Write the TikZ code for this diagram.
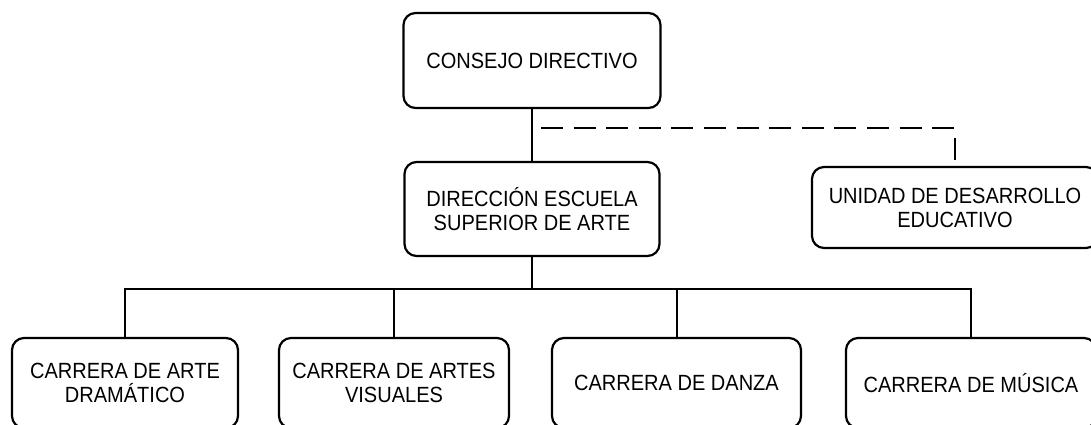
\documentclass[tikz,border=0pt]{standalone}
\usepackage{fontspec}
\setmainfont{Liberation Sans}[FakeStretch=0.91]
\begin{document}
\begin{tikzpicture}[x=1pt,y=-1pt,
  box/.style={draw, line width=2.2pt, rounded corners=12pt, align=center,
    font=\fontsize{22}{24}\selectfont, inner sep=0pt},
  conn/.style={line width=2pt},
  dsh/.style={line width=2pt, dash pattern=on 22pt off 10.6pt, dash phase=23.6pt}]
\useasboundingbox (0,0) rectangle (1091,425);
\clip (0,0) rectangle (1091,425);
\node[box, minimum width=257pt, minimum height=95pt] (cd) at (532,60.5) {CONSEJO DIRECTIVO};
\node[box, minimum width=255pt, minimum height=94pt] (dir) at (532,209) {DIRECCIÓN ESCUELA\\SUPERIOR DE ARTE};
\node[box, minimum width=286pt, minimum height=81pt] (ude) at (955,207.5) {UNIDAD DE DESARROLLO\\EDUCATIVO};
\node[box, minimum width=226pt, minimum height=90pt] (b1) at (125,383) {CARRERA DE ARTE\\DRAMÁTICO};
\node[box, minimum width=230pt, minimum height=90pt] (b2) at (394,383) {CARRERA DE ARTES\\VISUALES};
\node[box, minimum width=249pt, minimum height=90pt] (b3) at (676.5,383) {CARRERA DE DANZA};
\node[box, minimum width=250pt, minimum height=90pt] (b4) at (971,383) {CARRERA DE MÚSICA};
\coordinate (j) at (532,128);
\coordinate (bus) at (0,289);
\draw[conn] (cd.south) -- (dir.north);
\draw[dsh] (j) -| (ude.north);
\draw[conn] (dir.south) -- (dir.south |- bus);
\draw[conn] (b1.north) -- (b1.north |- bus) -- (b4.north |- bus) -- (b4.north);
\draw[conn] (b2.north |- bus) -- (b2.north);
\draw[conn] (b3.north |- bus) -- (b3.north);
\end{tikzpicture}
\end{document}
